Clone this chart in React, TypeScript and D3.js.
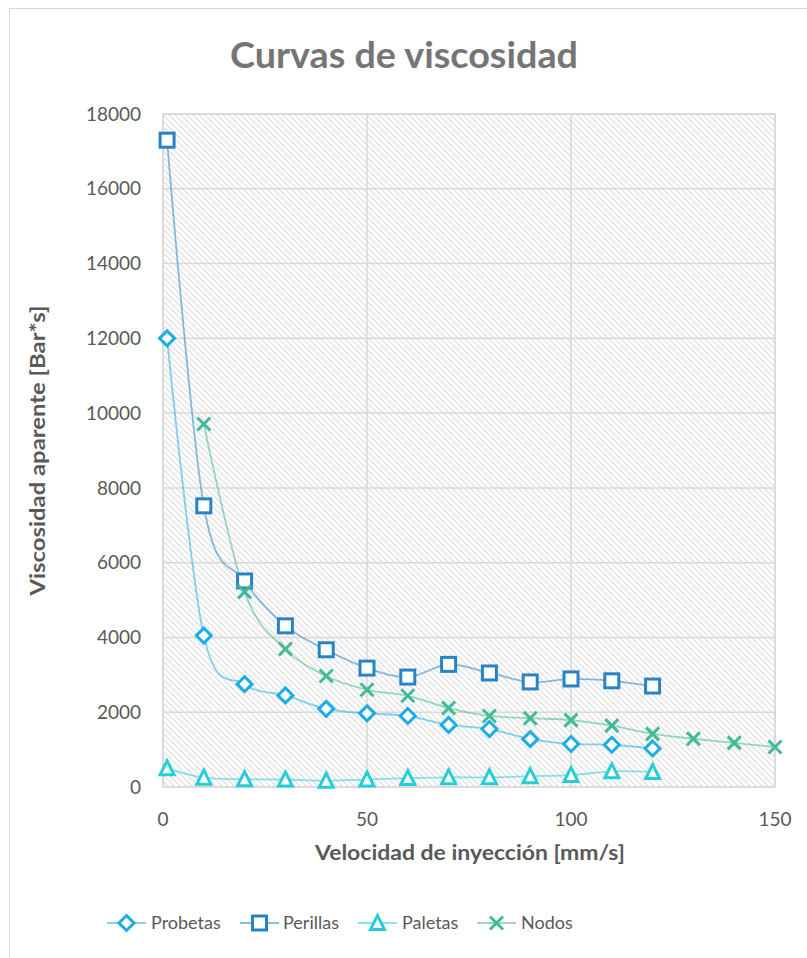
import React from "react";
import * as d3 from "d3";

const xProbetas = [1, 10, 20, 30, 40, 50, 60, 70, 80, 90, 100, 110, 120];
const yProbetas = [12000, 4050, 2750, 2450, 2090, 1970, 1900, 1660, 1550, 1280, 1150, 1130, 1030];
const xPerillas = [1, 10, 20, 30, 40, 50, 60, 70, 80, 90, 100, 110, 120];
const yPerillas = [17300, 7520, 5510, 4310, 3670, 3180, 2940, 3280, 3050, 2810, 2890, 2840, 2700];
const xPaletas = [1, 10, 20, 30, 40, 50, 60, 70, 80, 90, 100, 110, 120];
const yPaletas = [500, 250, 210, 200, 170, 200, 240, 260, 260, 290, 320, 420, 400];
const xNodos = [10, 20, 30, 40, 50, 60, 70, 80, 90, 100, 110, 120, 130, 140, 150];
const yNodos = [9710, 5220, 3690, 2970, 2600, 2440, 2110, 1900, 1840, 1790, 1640, 1420, 1290, 1180, 1070];

const xTicks = [0, 50, 100, 150];
const yTicks = [0, 2000, 4000, 6000, 8000, 10000, 12000, 14000, 16000, 18000];

const seriesNames = ["Probetas", "Perillas", "Paletas", "Nodos"];

const FONT = "Lato, 'Open Sans', sans-serif";

type Shape = "diamond" | "square" | "triangle" | "x";

const series: { name: string; xs: number[]; ys: number[]; color: string; shape: Shape }[] = [
  { name: seriesNames[0], xs: xProbetas, ys: yProbetas, color: "#1CADE4", shape: "diamond" },
  { name: seriesNames[1], xs: xPerillas, ys: yPerillas, color: "#2683C6", shape: "square" },
  { name: seriesNames[2], xs: xPaletas, ys: yPaletas, color: "#27CED7", shape: "triangle" },
  { name: seriesNames[3], xs: xNodos, ys: yNodos, color: "#42BA97", shape: "x" },
];

function Marker({ shape, color, cx, cy }: { shape: Shape; color: string; cx: number; cy: number }) {
  const sw = 3;
  if (shape === "square") {
    const s = 14;
    return <rect x={cx - s / 2} y={cy - s / 2} width={s} height={s} fill="#fff" stroke={color} strokeWidth={sw} />;
  }
  if (shape === "diamond") {
    const r = 7.5;
    return (
      <path
        d={`M${cx},${cy - r}L${cx + r},${cy}L${cx},${cy + r}L${cx - r},${cy}Z`}
        fill="#fff"
        stroke={color}
        strokeWidth={sw}
        strokeLinejoin="miter"
      />
    );
  }
  if (shape === "triangle") {
    const h = 13;
    const w = 14;
    return (
      <path
        d={`M${cx},${cy - h / 2 - 1}L${cx + w / 2},${cy + h / 2}L${cx - w / 2},${cy + h / 2}Z`}
        fill="#fff"
        stroke={color}
        strokeWidth={sw}
      />
    );
  }
  const r = 6.5;
  return (
    <path
      d={`M${cx - r},${cy - r}L${cx + r},${cy + r}M${cx - r},${cy + r}L${cx + r},${cy - r}`}
      stroke={color}
      strokeWidth={sw}
      fill="none"
    />
  );
}

export default function App() {
  const W = 807;
  const H = 958;
  const left = 163;
  const right = 775;
  const top = 114;
  const bottom = 787;

  const x = d3.scaleLinear().domain([0, 150]).range([left, right]);
  const y = d3.scaleLinear().domain([0, 18000]).range([bottom, top]);

  const line = d3
    .line<[number, number]>()
    .x((d) => x(d[0]))
    .y((d) => y(d[1]))
    .curve(d3.curveCatmullRom.alpha(0));

  const legendItems = [
    { lx: 107, tx: 151 },
    { lx: 240, tx: 283 },
    { lx: 358, tx: 402 },
    { lx: 477, tx: 521 },
  ];
  const legendY = 923;

  return (
    <svg
      width={W}
      height={H}
      style={{ position: "absolute", left: 0, top: 0, background: "#fff" }}
      fontFamily={FONT}
    >
      <defs>
        <pattern id="hatch" patternUnits="userSpaceOnUse" width={6} height={6}>
          <rect width={6} height={6} fill="#ffffff" />
          <path d="M-3,3L3,9M0,0L6,6M3,-3L9,3" stroke="#e4e4e4" strokeWidth={1.5} />
        </pattern>
        <clipPath id="plotclip">
          <rect x={left - 20} y={top - 20} width={right - left + 40} height={bottom - top + 40} />
        </clipPath>
      </defs>

      <rect x={9.5} y={8.5} width={820} height={980} fill="#fff" stroke="#d9d9d9" strokeWidth={1} />

      <text
        x={404}
        y={68}
        textAnchor="middle"
        fontSize={37}
        fontWeight="bold"
        fill="#757575"
        textLength={348}
        lengthAdjust="spacingAndGlyphs"
      >
        Curvas de viscosidad
      </text>

      <rect x={left} y={top} width={right - left} height={bottom - top} fill="url(#hatch)" stroke="#d9d9d9" strokeWidth={1.5} />

      {yTicks.map((t) => (
        <line key={"gy" + t} x1={left} x2={right} y1={y(t)} y2={y(t)} stroke="#d9d9d9" strokeWidth={1.5} />
      ))}
      {xTicks.map((t) => (
        <line key={"gx" + t} x1={x(t)} x2={x(t)} y1={top} y2={bottom} stroke="#d9d9d9" strokeWidth={1.5} />
      ))}

      {yTicks.map((t) => (
        <text key={"ty" + t} x={141} y={y(t)} dy="0.35em" textAnchor="end" fontSize={19} fill="#595959">
          {t}
        </text>
      ))}
      {xTicks.map((t) => (
        <text key={"tx" + t} x={x(t)} y={819} dy="0.35em" textAnchor="middle" fontSize={19} fill="#595959">
          {t}
        </text>
      ))}

      <text
        x={470}
        y={853}
        dy="0.35em"
        textAnchor="middle"
        fontSize={20}
        fontWeight="bold"
        fill="#595959"
        textLength={310}
        lengthAdjust="spacingAndGlyphs"
      >
        Velocidad de inyección [mm/s]
      </text>
      <text
        transform={`translate(38,${(top + bottom) / 2}) rotate(-90)`}
        dy="0.35em"
        textAnchor="middle"
        fontSize={20}
        fontWeight="bold"
        fill="#595959"
        textLength={290}
        lengthAdjust="spacingAndGlyphs"
      >
        Viscosidad aparente [Bar*s]
      </text>

      <g clipPath="url(#plotclip)">
        {series.map((s) => (
          <path
            key={"l" + s.name}
            d={line(s.xs.map((v, i) => [v, s.ys[i]] as [number, number])) || ""}
            fill="none"
            stroke={s.color}
            strokeOpacity={0.55}
            strokeWidth={1.8}
          />
        ))}
        {series.map((s) => (
          <g key={"m" + s.name}>
            {s.xs.map((v, i) => (
              <Marker key={i} shape={s.shape} color={s.color} cx={x(v)} cy={y(s.ys[i])} />
            ))}
          </g>
        ))}
      </g>

      {series.map((s, i) => (
        <g key={"lg" + s.name}>
          <line
            x1={legendItems[i].lx}
            x2={legendItems[i].lx + 39}
            y1={legendY}
            y2={legendY}
            stroke={s.color}
            strokeOpacity={0.55}
            strokeWidth={1.8}
          />
          <Marker shape={s.shape} color={s.color} cx={legendItems[i].lx + 19.5} cy={legendY} />
          <text x={legendItems[i].tx} y={legendY} dy="0.35em" fontSize={18} fill="#595959">
            {s.name}
          </text>
        </g>
      ))}
    </svg>
  );
}
